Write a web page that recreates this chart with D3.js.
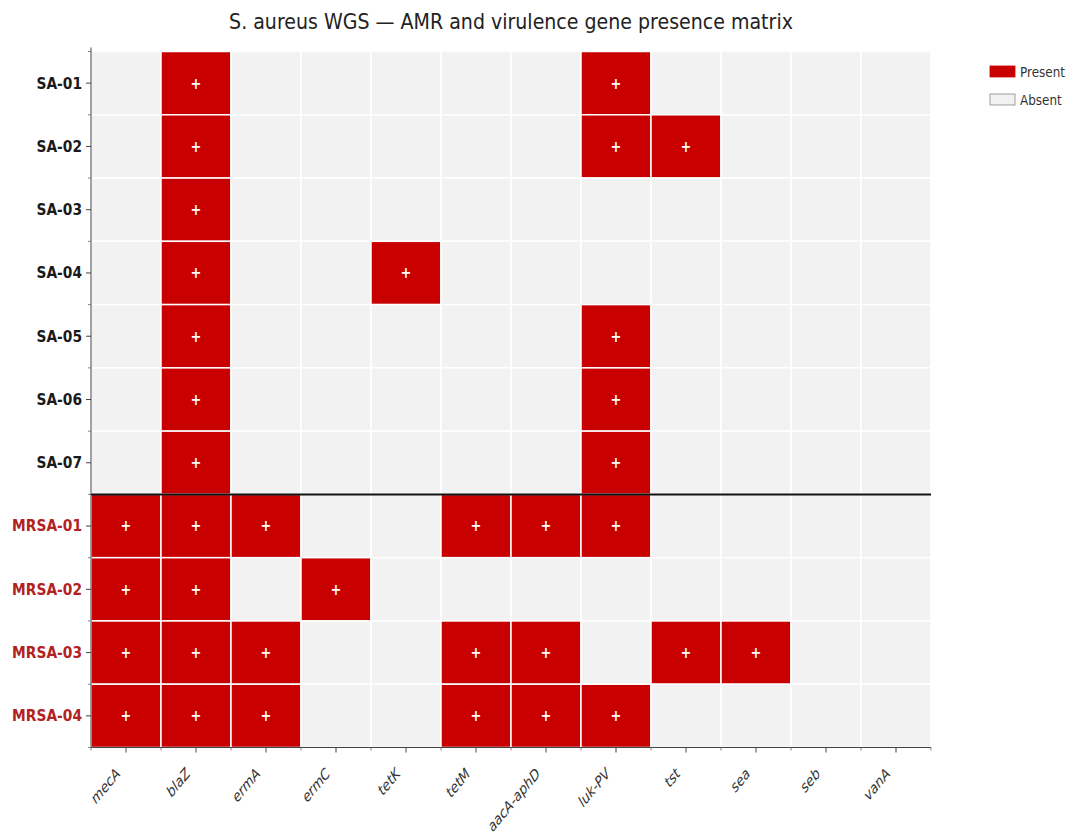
<!DOCTYPE html>
<html>
<head>
<meta charset="utf-8">
<script src="https://cdn.jsdelivr.net/npm/d3@7"></script>
<style>
  html, body { margin: 0; padding: 0; background: #ffffff; }
  svg { display: block; }
  text { font-family: "DejaVu Sans", sans-serif; }
</style>
</head>
<body>
<svg id="chart" width="1073" height="838"></svg>
<script>
// Gene panel (columns) and isolates (rows)
const genes = ["mecA", "blaZ", "ermA", "ermC", "tetK", "tetM", "aacA-aphD", "luk-PV", "tst", "sea", "seb", "vanA"];
const samples = ["SA-01", "SA-02", "SA-03", "SA-04", "SA-05", "SA-06", "SA-07",
                 "MRSA-01", "MRSA-02", "MRSA-03", "MRSA-04"];
// Methicillin-resistant isolates (labelled in red)
const mrsaSamples = ["MRSA-01", "MRSA-02", "MRSA-03", "MRSA-04"];

// Presence (1) / absence (0) of each gene, one row per isolate, columns in gene order
const presence = [
  [0, 1, 0, 0, 0, 0, 0, 1, 0, 0, 0, 0], // SA-01
  [0, 1, 0, 0, 0, 0, 0, 1, 1, 0, 0, 0], // SA-02
  [0, 1, 0, 0, 0, 0, 0, 0, 0, 0, 0, 0], // SA-03
  [0, 1, 0, 0, 1, 0, 0, 0, 0, 0, 0, 0], // SA-04
  [0, 1, 0, 0, 0, 0, 0, 1, 0, 0, 0, 0], // SA-05
  [0, 1, 0, 0, 0, 0, 0, 1, 0, 0, 0, 0], // SA-06
  [0, 1, 0, 0, 0, 0, 0, 1, 0, 0, 0, 0], // SA-07
  [1, 1, 1, 0, 0, 1, 1, 1, 0, 0, 0, 0], // MRSA-01
  [1, 1, 0, 1, 0, 0, 0, 0, 0, 0, 0, 0], // MRSA-02
  [1, 1, 1, 0, 0, 1, 1, 0, 1, 1, 0, 0], // MRSA-03
  [1, 1, 1, 0, 0, 1, 1, 1, 0, 0, 0, 0]  // MRSA-04
];

const legendLabels = ["Present", "Absent"];
const titleText = "S. aureus WGS \u2014 AMR and virulence gene presence matrix";

const COLOR_PRESENT = "#c80000";
const COLOR_ABSENT = "#f2f2f2";
const TEXT_STRETCH = 1.2; // tall, narrow lettering

const svg = d3.select("#chart");
const W = 1073, H = 838;
const margin = { left: 91, right: W - 931, top: 51.5, bottom: H - 747.5 };

const x = d3.scaleBand().domain(genes).range([margin.left, W - margin.right]).padding(0);
const y = d3.scaleBand().domain(samples).range([margin.top, H - margin.bottom]).padding(0);

// Flatten matrix into cells
const cells = [];
samples.forEach((s, i) => {
  genes.forEach((g, j) => {
    cells.push({ sample: s, gene: g, value: presence[i][j] });
  });
});

const cellG = svg.append("g");
cellG.selectAll("rect")
  .data(cells)
  .join("rect")
  .attr("x", d => x(d.gene))
  .attr("y", d => y(d.sample))
  .attr("width", x.bandwidth())
  .attr("height", y.bandwidth())
  .attr("fill", d => d.value ? COLOR_PRESENT : COLOR_ABSENT)
  .attr("stroke", "#ffffff")
  .attr("stroke-width", 1.5);

cellG.selectAll("text")
  .data(cells.filter(d => d.value))
  .join("text")
  .attr("transform", d => `translate(${x(d.gene) + x.bandwidth() / 2},${y(d.sample) + y.bandwidth() / 2}) scale(1,${TEXT_STRETCH})`)
  .attr("text-anchor", "middle")
  .attr("dominant-baseline", "central")
  .attr("fill", "#ffffff")
  .attr("font-size", 13)
  .attr("font-weight", "bold")
  .text("+");

// Separator between MSSA and MRSA groups
const firstMrsa = samples.indexOf(mrsaSamples[0]);
svg.append("line")
  .attr("x1", x.range()[0]).attr("x2", x.range()[1])
  .attr("y1", y(samples[firstMrsa])).attr("y2", y(samples[firstMrsa]))
  .attr("stroke", "#111").attr("stroke-width", 2);

// Y axis
const yAxis = svg.append("g")
  .attr("transform", `translate(${margin.left},0)`)
  .call(d3.axisLeft(y).tickSize(5).tickPadding(4));
yAxis.select(".domain").attr("d", `M0,${margin.top - 4}V${H - margin.bottom}`).attr("stroke", "#444");
yAxis.selectAll(".tick line").attr("stroke", "#444");
yAxis.selectAll(".tick text")
  .attr("font-size", 13.8)
  .attr("font-weight", "bold")
  .attr("font-family", "DejaVu Sans")
  .attr("dy", null)
  .attr("dominant-baseline", "central")
  .attr("transform", `scale(1,${TEXT_STRETCH})`)
  .attr("fill", d => mrsaSamples.includes(d) ? "#b22222" : "#1a1a1a");
// Minor ticks at row edges
svg.append("g").selectAll("line")
  .data(samples.map(s => y(s)).concat([y.range()[1]]))
  .join("line")
  .attr("x1", margin.left - 3).attr("x2", margin.left)
  .attr("y1", d => d).attr("y2", d => d)
  .attr("stroke", "#666").attr("stroke-width", 0.8);

// X axis
const xAxis = svg.append("g")
  .attr("transform", `translate(0,${H - margin.bottom})`)
  .call(d3.axisBottom(x).tickSize(5).tickPadding(3));
xAxis.select(".domain").attr("d", `M${margin.left},0H${W - margin.right}`).attr("stroke", "#444");
xAxis.selectAll(".tick line").attr("stroke", "#444");
xAxis.selectAll(".tick text")
  .attr("font-size", 12.5)
  .attr("font-style", "italic")
  .attr("font-family", "DejaVu Sans")
  .attr("fill", "#333")
  .attr("text-anchor", "end")
  .attr("dy", null)
  .attr("y", 0)
  .attr("transform", `translate(-5,27) scale(1,${TEXT_STRETCH}) rotate(-45)`);
svg.append("g").selectAll("line")
  .data(genes.map(g => x(g)).concat([x.range()[1]]))
  .join("line")
  .attr("x1", d => d).attr("x2", d => d)
  .attr("y1", H - margin.bottom).attr("y2", H - margin.bottom + 3)
  .attr("stroke", "#666").attr("stroke-width", 0.8);

// Title
svg.append("text")
  .attr("transform", `translate(${(x.range()[0] + x.range()[1]) / 2},29) scale(1,1.1)`)
  .attr("text-anchor", "middle")
  .attr("font-size", 19)
  .attr("fill", "#222")
  .text(titleText);

// Legend
const legend = svg.append("g").attr("transform", "translate(990,66)");
const legendItems = legend.selectAll("g")
  .data(legendLabels)
  .join("g")
  .attr("transform", (d, i) => `translate(0,${i * 28})`);
legendItems.append("rect")
  .attr("width", 25).attr("height", 11)
  .attr("fill", (d, i) => i === 0 ? COLOR_PRESENT : COLOR_ABSENT)
  .attr("stroke", (d, i) => i === 0 ? COLOR_PRESENT : "#888")
  .attr("stroke-width", 0.8);
legendItems.append("text")
  .attr("transform", `translate(30,6) scale(1,${TEXT_STRETCH})`)
  .attr("dominant-baseline", "central")
  .attr("font-size", 12)
  .attr("fill", "#333")
  .text(d => d);
</script>
</body>
</html>
